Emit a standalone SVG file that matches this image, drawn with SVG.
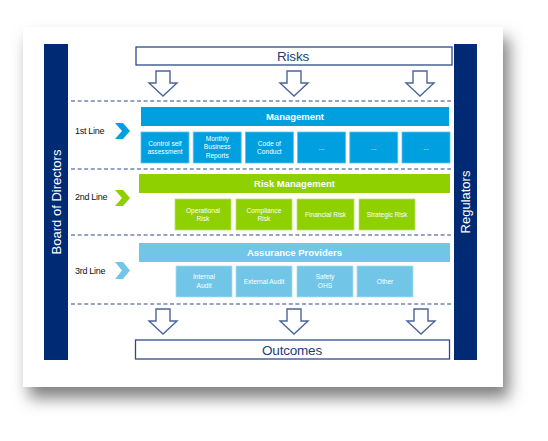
<svg xmlns="http://www.w3.org/2000/svg" width="548" height="441" viewBox="0 0 548 441">
<defs>
<filter id="sh" x="-10%" y="-10%" width="125%" height="130%">
<feDropShadow dx="6" dy="11" stdDeviation="8" flood-color="#000" flood-opacity="0.5"/>
</filter>
<style>
.bar{fill:#002a74}
.vt{font-family:"Liberation Sans",Arial,sans-serif;font-size:13px;fill:#fff;text-anchor:middle}
.box{fill:#fff;stroke:#2c4a8a;stroke-width:1.3}
.bt{font-family:"Liberation Sans",Arial,sans-serif;font-size:13.5px;fill:#1f3c7a;text-anchor:middle;letter-spacing:-0.2px}
.arr{fill:#fff;stroke:#4a6598;stroke-width:1.4;stroke-linejoin:miter}
.dash{stroke:#2c4a8a;stroke-width:1.2;stroke-dasharray:4 2.6;fill:none}
.hd{font-family:"Liberation Sans",Arial,sans-serif;font-size:9.5px;font-weight:bold;fill:#fff;text-anchor:middle}
.sb{font-family:"Liberation Sans",Arial,sans-serif;font-size:6.6px;fill:#fff;text-anchor:middle}
.ln{font-family:"Liberation Sans",Arial,sans-serif;font-size:9px;fill:#111;letter-spacing:-0.3px}
.c1{fill:#009fdf}
.c2{fill:#8fd000}
.c3{fill:#71c6e7}
.s1{fill:#009fdf;stroke:#5cc3ee;stroke-width:0.8}
.s2{fill:#8fd000;stroke:#b8e46a;stroke-width:0.8}
.s3{fill:#71c6e7;stroke:#a8dcf0;stroke-width:0.8}
</style>
</defs>
<rect x="0" y="0" width="548" height="441" fill="#fff"/>
<rect x="23" y="27" width="480" height="360" fill="#fff" filter="url(#sh)"/>

<g id="board">
<rect class="bar" x="44" y="44" width="24" height="316"/>
<text class="vt" transform="translate(60.5,202) rotate(-90)">Board of Directors</text>
</g>
<g id="regulators">
<rect class="bar" x="454" y="44" width="23" height="316"/>
<text class="vt" transform="translate(470,202) rotate(-90)">Regulators</text>
</g>

<g id="risks">
<rect class="box" x="136" y="47" width="316" height="18"/>
<text class="bt" x="293" y="61">Risks</text>
</g>
<g id="outcomes">
<rect class="box" x="135.5" y="340" width="314" height="19"/>
<text class="bt" x="292" y="355">Outcomes</text>
</g>

<g id="connectors">
<path class="arr" d="M156,71 H170 V83 H177 L163,96 L149,83 H156 Z"/>
<path class="arr" d="M287,71 H301 V83 H308 L294,96 L280,83 H287 Z"/>
<path class="arr" d="M413,71 H427 V83 H434 L420,96 L406,83 H413 Z"/>
<path class="arr" d="M156,309 H170 V321 H177 L163,334 L149,321 H156 Z"/>
<path class="arr" d="M287,309 H301 V321 H308 L294,334 L280,321 H287 Z"/>
<path class="arr" d="M414,309 H428 V321 H435 L421,334 L407,321 H414 Z"/>
<line class="dash" x1="71" y1="101" x2="451" y2="101"/>
<line class="dash" x1="71" y1="169" x2="451" y2="169"/>
<line class="dash" x1="71" y1="235" x2="451" y2="235"/>
<line class="dash" x1="71" y1="304" x2="451" y2="304"/>
</g>

<g id="line1">
<text class="ln" x="75" y="134">1st Line</text>
<path class="c1" d="M115,123 H123 L130,131 L123,139 H115 L122,131 Z"/>
</g>
<g id="line2">
<text class="ln" x="75" y="200">2nd Line</text>
<path class="c2" d="M115,190 H123 L130,198 L123,206 H115 L122,198 Z"/>
</g>
<g id="line3">
<text class="ln" x="75" y="274">3rd Line</text>
<path class="c3" d="M115,262 H123 L130,270.5 L123,279 H115 L122,270.5 Z"/>
</g>

<g id="management">
<rect class="c1" x="141" y="107" width="308" height="19"/>
<text class="hd" x="295" y="120">Management</text>
</g>
<g id="mgmt-items">
<rect class="s1" x="141" y="132" width="48" height="31"/>
<text class="sb" x="165" y="146">Control self</text>
<text class="sb" x="165" y="154">assessment</text>
<rect class="s1" x="193.2" y="132" width="48" height="31"/>
<text class="sb" x="217.2" y="141">Monthly</text>
<text class="sb" x="217.2" y="149">Business</text>
<text class="sb" x="217.2" y="157.5">Reports</text>
<rect class="s1" x="245.4" y="132" width="48" height="31"/>
<text class="sb" x="269.4" y="146">Code of</text>
<text class="sb" x="269.4" y="154">Conduct</text>
<rect class="s1" x="297.6" y="132" width="48" height="31"/>
<text class="sb" x="321.6" y="150">...</text>
<rect class="s1" x="349.8" y="132" width="48" height="31"/>
<text class="sb" x="373.8" y="150">...</text>
<rect class="s1" x="402" y="132" width="48" height="31"/>
<text class="sb" x="426" y="150">...</text>
</g>

<g id="risk-management">
<rect class="c2" x="139" y="174" width="311" height="19"/>
<text class="hd" x="294.5" y="187">Risk Management</text>
</g>
<g id="rm-items">
<rect class="s2" x="175" y="199" width="56" height="31"/>
<text class="sb" x="203" y="212.5">Operational</text>
<text class="sb" x="203" y="220.5">Risk</text>
<rect class="s2" x="236" y="199" width="56" height="31"/>
<text class="sb" x="264" y="212.5">Compliance</text>
<text class="sb" x="264" y="220.5">Risk</text>
<rect class="s2" x="297" y="199" width="57" height="31"/>
<text class="sb" x="325.5" y="217">Financial Risk</text>
<rect class="s2" x="359" y="199" width="56" height="31"/>
<text class="sb" x="387" y="217">Strategic Risk</text>
</g>

<g id="assurance">
<rect class="c3" x="139" y="243" width="311" height="19"/>
<text class="hd" x="294.5" y="256">Assurance Providers</text>
</g>
<g id="ap-items">
<rect class="s3" x="176" y="266" width="56" height="31"/>
<text class="sb" x="204" y="279">Internal</text>
<text class="sb" x="204" y="287.5">Audit</text>
<rect class="s3" x="236" y="266" width="56" height="31"/>
<text class="sb" x="264" y="284">External Audit</text>
<rect class="s3" x="297" y="266" width="56" height="31"/>
<text class="sb" x="325" y="279">Safety</text>
<text class="sb" x="325" y="287.5">OHS</text>
<rect class="s3" x="357" y="266" width="56" height="31"/>
<text class="sb" x="385" y="284">Other</text>
</g>
</svg>
